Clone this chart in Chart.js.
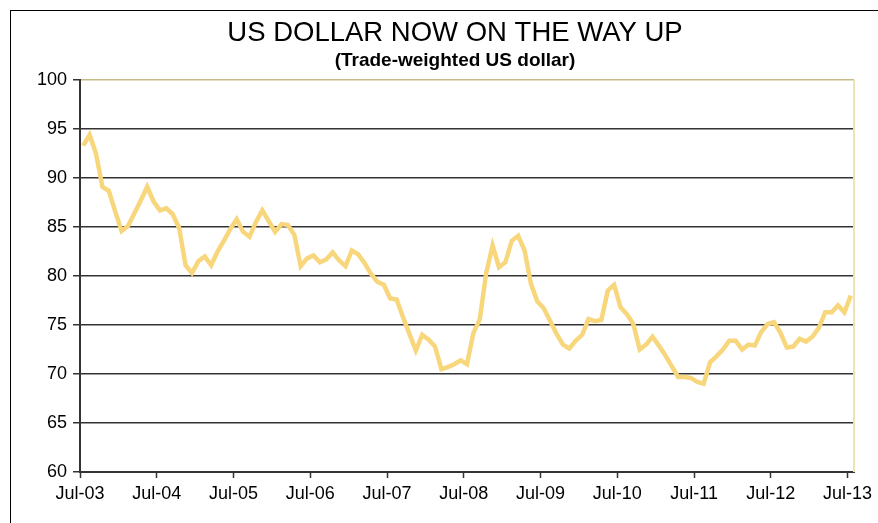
<!DOCTYPE html>
<html>
<head>
<meta charset="utf-8">
<script src="https://cdn.jsdelivr.net/npm/chart.js@4.4.1/dist/chart.umd.min.js"></script>
<style>
  html, body { margin: 0; padding: 0; background: #fff; overflow: hidden; }
  #wrap { position: relative; width: 878px; height: 523px; }
  #frame { position: absolute; left: 10px; top: 10px; width: 1000px; height: 1000px; border: 1px solid #000; }
  canvas { position: absolute; left: 0; top: 0; }
</style>
</head>
<body>
<div id="wrap">
  <div id="frame"></div>
  <canvas id="dollarChart" width="878" height="523"></canvas>
</div>
<script>
const titleText = 'US DOLLAR NOW ON THE WAY UP';
const subtitleText = '(Trade-weighted US dollar)';

// x labels, one per July (each 12 months)
const tickLabels = ['Jul-03', 'Jul-04', 'Jul-05', 'Jul-06', 'Jul-07', 'Jul-08',
                    'Jul-09', 'Jul-10', 'Jul-11', 'Jul-12', 'Jul-13'];

// monthly trade-weighted dollar index, Jul-03 .. Jul-13
const dollarIndex = [
  93.3, 94.4, 92.5, 89.1, 88.7, 86.6, 84.6, 85.1, 86.4, 87.7, 89.1, 87.6,
  86.7, 86.9, 86.3, 84.9, 81.1, 80.3, 81.5, 82.0, 81.1, 82.5, 83.6, 84.8,
  85.8, 84.5, 84.0, 85.5, 86.7, 85.6, 84.5, 85.3, 85.2, 84.2, 81.0, 81.8,
  82.1, 81.4, 81.7, 82.4, 81.6, 81.0, 82.6, 82.2, 81.3, 80.2, 79.4, 79.1,
  77.7, 77.6, 75.8, 74.1, 72.4, 74.0, 73.5, 72.8, 70.5, 70.7, 71.0, 71.4,
  71.0, 74.2, 75.6, 80.3, 83.1, 80.9, 81.4, 83.6, 84.1, 82.6, 79.2, 77.4,
  76.7, 75.4, 74.1, 73.0, 72.6, 73.4, 74.0, 75.6, 75.4, 75.5, 78.5, 79.1,
  76.8, 76.1, 75.1, 72.5, 73.0, 73.8, 72.9, 71.9, 70.8, 69.7, 69.7, 69.6,
  69.2, 69.0, 71.2, 71.8, 72.5, 73.4, 73.4, 72.5, 73.0, 72.9, 74.3, 75.1,
  75.3, 74.2, 72.7, 72.8, 73.6, 73.3, 73.8, 74.7, 76.3, 76.3, 77.0, 76.3,
  78.0
];

const yMin = 60;
const yMax = 100;
const yStep = 5;

// each month sits in the middle of its slot, like Excel "between tick marks"
const points = dollarIndex.map((v, i) => ({ x: i + 0.5, y: v }));

const fontFamily = "'Liberation Sans', Arial, sans-serif";

const titlePlugin = {
    id: 'titles',
    afterDraw(chart) {
        const ctx = chart.ctx;
        ctx.save();
        ctx.fillStyle = '#000';
        ctx.textAlign = 'center';
        ctx.textBaseline = 'middle';
        ctx.font = '27.5px ' + fontFamily;
        ctx.fillText(titleText, 455, 33);
        ctx.font = 'bold 19px ' + fontFamily;
        ctx.fillText(subtitleText, 455, 61);
        ctx.restore();
    }
};

const plotBorder = {
    id: 'plotBorder',
    beforeDatasetsDraw(chart) {
        const a = chart.chartArea;
        const ctx = chart.ctx;
        ctx.save();
        ctx.strokeStyle = '#EDE3B9';
        ctx.lineWidth = 2;
        ctx.beginPath();
        ctx.moveTo(a.right, a.top);
        ctx.lineTo(a.right, a.bottom);
        ctx.stroke();
        ctx.restore();
    }
};

new Chart(document.getElementById('dollarChart'), {
    type: 'line',
    data: {
        datasets: [{
            data: points,
            borderColor: '#F8D67C',
            borderWidth: 4.5,
            pointRadius: 0,
            tension: 0,
            fill: false
        }]
    },
    options: {
        responsive: false,
        animation: false,
        layout: { padding: { top: 80, right: 24, left: 0, bottom: 0 } },
        plugins: {
            legend: { display: false },
            tooltip: { enabled: false }
        },
        scales: {
            x: {
                type: 'linear',
                min: 0,
                max: dollarIndex.length,
                afterBuildTicks(scale) {
                    scale.ticks = tickLabels.map((_, k) => ({ value: k * 12 }));
                },
                afterFit(scale) { scale.height = 51; },
                grid: {
                    drawOnChartArea: false,
                    drawTicks: true,
                    tickLength: 6,
                    tickColor: '#333',
                    tickWidth: 1.5
                },
                border: { color: '#333', width: 2 },
                ticks: {
                    autoSkip: false,
                    maxRotation: 0,
                    padding: 5,
                    color: '#000',
                    font: { family: fontFamily, size: 18 },
                    callback: (value, index) => tickLabels[index]
                }
            },
            y: {
                min: yMin,
                max: yMax,
                afterFit(scale) { scale.width = 80; },
                grid: {
                    color: (c) => c.tick && c.tick.value === yMax ? '#C6BA86' : '#333',
                    lineWidth: 1.5,
                    drawTicks: true,
                    tickLength: 7,
                    tickColor: '#333'
                },
                border: { color: '#333', width: 2 },
                ticks: {
                    stepSize: yStep,
                    padding: 6,
                    color: '#000',
                    font: { family: fontFamily, size: 18 }
                }
            }
        }
    },
    plugins: [titlePlugin, plotBorder]
});
</script>
</body>
</html>
